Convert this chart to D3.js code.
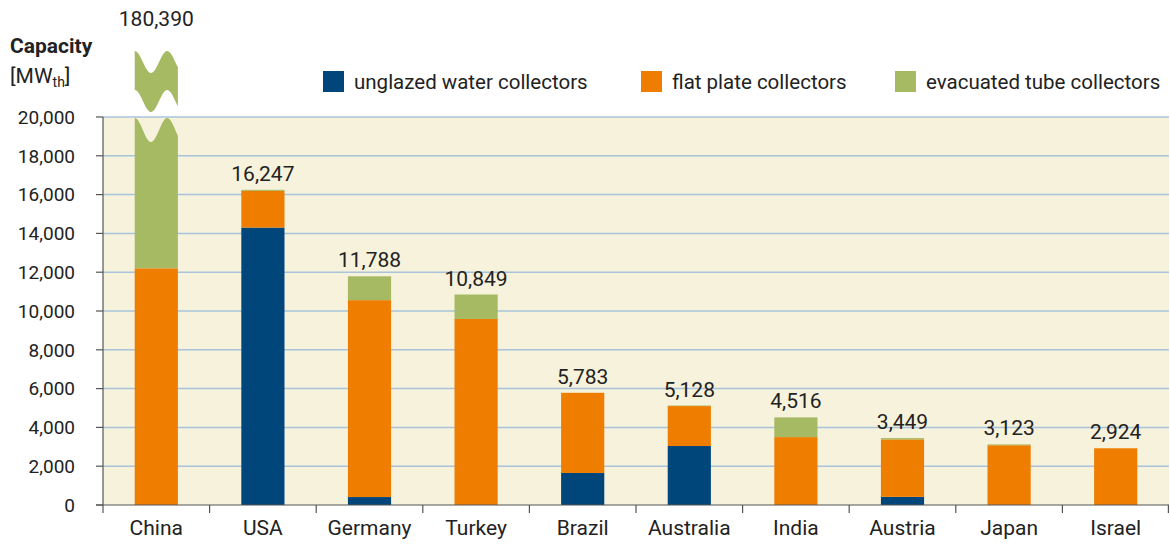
<!DOCTYPE html>
<html><head><meta charset="utf-8">
<script src="https://cdn.jsdelivr.net/npm/d3@7"></script>
<style>
html,body{margin:0;padding:0;background:#fff;}
svg{display:block;font-family:Roboto,"Open Sans",sans-serif;}
</style></head>
<body><svg id="chart" width="1170" height="546"></svg>
<script>
const countries = ["China","USA","Germany","Turkey","Brazil","Australia","India","Austria","Japan","Israel"];
const unglazed  = [0, 14300, 410, 0, 1650, 3040, 0, 420, 0, 0];
const flatPlate = [12200, 1890, 10150, 9590, 4133, 2060, 3500, 2960, 3080, 2924];
const evacuated = [168190, 57, 1228, 1259, 0, 28, 1016, 69, 43, 0];
const totals    = [180390, 16247, 11788, 10849, 5783, 5128, 4516, 3449, 3123, 2924];
const seriesNames = ["unglazed water collectors","flat plate collectors","evacuated tube collectors"];
const seriesColors = ["#00467b","#ef7d00","#a6b963"];
const yTicks = [0,2000,4000,6000,8000,10000,12000,14000,16000,18000,20000];

const W = 1170, H = 546;
const m = {left:103, right:1, top:117, bottom:41};
const svg = d3.select("#chart");
const fmt = d3.format(",");

const x = d3.scaleBand().domain(countries).range([m.left, W - m.right]).padding(0);
const y = d3.scaleLinear().domain([0, 20000]).range([H - m.bottom, m.top]);
const barW = x.bandwidth() * 0.405;

// background
svg.append("rect").attr("x", m.left).attr("y", y(20000))
  .attr("width", W - m.right - m.left).attr("height", y(0) - y(20000))
  .attr("fill", "#f7f2dc");

// gridlines
svg.append("g").selectAll("line").data(yTicks.filter(d => d > 0)).join("line")
  .attr("x1", m.left).attr("x2", W - m.right)
  .attr("y1", d => y(d)).attr("y2", d => y(d))
  .attr("stroke", "#a9c4da").attr("stroke-width", 1.5);

// stacked data
const rows = countries.map((c, i) => ({country: c, s0: unglazed[i], s1: flatPlate[i], s2: evacuated[i], total: totals[i]}));
const stack = d3.stack().keys(["s0","s1","s2"])(rows);

const maxV = y.domain()[1];
const wave = (t, A) => -A * Math.cos(2 * Math.PI * 1.33 * t);

stack.forEach((layer, li) => {
  layer.forEach((d, i) => {
    const v0 = d[0], v1 = d[1];
    if (v1 - v0 <= 0) return;
    const cx = x(countries[i]) + x.bandwidth() / 2;
    const xl = cx - barW / 2;
    if (v1 <= maxV) {
      svg.append("rect").attr("x", xl).attr("y", y(v1))
        .attr("width", barW).attr("height", y(v0) - y(v1))
        .attr("fill", seriesColors[li]);
    } else {
      const N = 40, A = 12;
      const topC = y(maxV) + 13;
      let p = d3.path();
      p.moveTo(xl, y(v0));
      p.lineTo(xl, topC + wave(0, A));
      for (let k = 1; k <= N; k++) {
        const t = k / N;
        p.lineTo(xl + t * barW, topC + wave(t, A));
      }
      p.lineTo(xl + barW, y(v0));
      p.closePath();
      svg.append("path").attr("d", p.toString()).attr("fill", seriesColors[li]);
      const upTop = y(maxV) - 55, upBot = y(maxV) - 16;
      let q = d3.path();
      q.moveTo(xl, upTop + wave(0, 11));
      for (let k = 1; k <= N; k++) {
        const t = k / N;
        q.lineTo(xl + t * barW, upTop + wave(t, 11));
      }
      for (let k = N; k >= 0; k--) {
        const t = k / N;
        q.lineTo(xl + t * barW, upBot + wave(t, 11));
      }
      q.closePath();
      svg.append("path").attr("d", q.toString()).attr("fill", seriesColors[li]);
    }
  });
});

// value labels
svg.append("g").selectAll("text").data(rows).join("text")
  .attr("x", d => x(d.country) + x.bandwidth() / 2)
  .attr("y", d => d.total > maxV ? 26 : y(d.total) - 9)
  .attr("text-anchor", "middle")
  .attr("font-size", 21).attr("fill", "#222")
  .text(d => fmt(d.total));

// y axis
const yAxis = svg.append("g");
yAxis.append("line").attr("x1", m.left).attr("x2", m.left)
  .attr("y1", y(20000)).attr("y2", y(0)).attr("stroke", "#555").attr("stroke-width", 1.2);
yAxis.selectAll("line.t").data(yTicks).join("line").attr("class","t")
  .attr("x1", m.left - 7).attr("x2", m.left)
  .attr("y1", d => y(d)).attr("y2", d => y(d)).attr("stroke", "#555").attr("stroke-width", 1.2);
yAxis.selectAll("text").data(yTicks).join("text")
  .attr("x", 75).attr("y", d => y(d)).attr("dy", "0.36em")
  .attr("text-anchor", "end").attr("font-size", 19).attr("fill", "#222")
  .text(d => fmt(d));

// x axis
const xAxis = svg.append("g");
xAxis.append("line").attr("x1", m.left - 7).attr("x2", W - m.right)
  .attr("y1", y(0)).attr("y2", y(0)).attr("stroke", "#555").attr("stroke-width", 1.2);
const bounds = countries.map(c => x(c)).concat([x(countries[countries.length-1]) + x.bandwidth()]);
xAxis.selectAll("line.t").data(bounds).join("line").attr("class","t")
  .attr("x1", d => Math.min(d, W - m.right - 0.6)).attr("x2", d => Math.min(d, W - m.right - 0.6))
  .attr("y1", y(0)).attr("y2", y(0) + 8).attr("stroke", "#555").attr("stroke-width", 1.2);
xAxis.selectAll("text").data(countries).join("text")
  .attr("x", d => x(d) + x.bandwidth() / 2).attr("y", y(0) + 30)
  .attr("text-anchor", "middle").attr("font-size", 21).attr("fill", "#222")
  .text(d => d);

// axis title
svg.append("text").attr("x", 10).attr("y", 53).attr("font-size", 21)
  .attr("font-weight", "bold").attr("fill", "#222").text("Capacity");
const unit = svg.append("text").attr("x", 10).attr("y", 83).attr("font-size", 21).attr("fill", "#222");
unit.append("tspan").text("[MW");
unit.append("tspan").attr("font-size", 14).attr("dy", 4).text("th");
unit.append("tspan").attr("dy", -4).text("]");

// legend
const legX = [323, 641, 895];
const leg = svg.append("g").selectAll("g").data(seriesNames).join("g")
  .attr("transform", (d, i) => `translate(${legX[i]},71)`);
leg.append("rect").attr("width", 21).attr("height", 21).attr("fill", (d, i) => seriesColors[i]);
leg.append("text").attr("x", 31).attr("y", 11).attr("dy", "0.36em")
  .attr("font-size", 20.5).attr("fill", "#222").text(d => d);
</script></body></html>
